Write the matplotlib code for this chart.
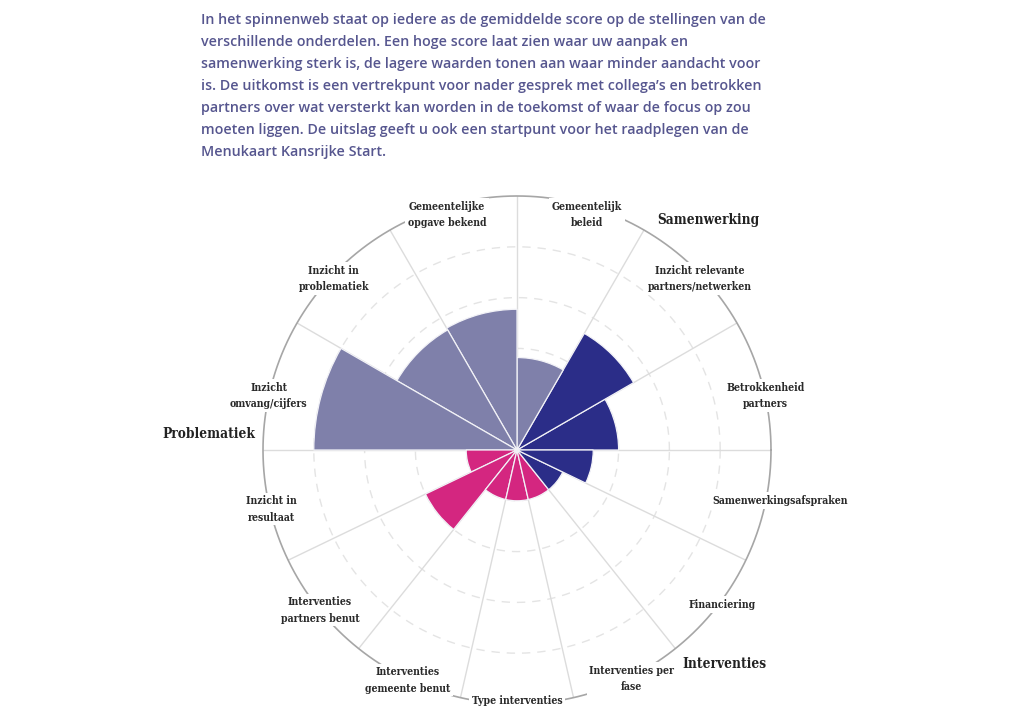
import numpy as np
import matplotlib
matplotlib.use("Agg")
import matplotlib.pyplot as plt
from matplotlib.transforms import ScaledTranslation

# ---------------- data ----------------
intro_lines = [
    "In het spinnenweb staat op iedere as de gemiddelde score op de stellingen van de",
    "verschillende onderdelen. Een hoge score laat zien waar uw aanpak en",
    "samenwerking sterk is, de lagere waarden tonen aan waar minder aandacht voor",
    "is. De uitkomst is een vertrekpunt voor nader gesprek met collega\u2019s en betrokken",
    "partners over wat versterkt kan worden in de toekomst of waar de focus op zou",
    "moeten liggen. De uitslag geeft u ook een startpunt voor het raadplegen van de",
    "Menukaart Kansrijke Start.",
]

# counter-clockwise, starting at the positive x-axis
categories = [
    "Betrokkenheid\npartners",
    "Inzicht relevante\npartners/netwerken",
    "Gemeentelijk\nbeleid",
    "Gemeentelijke\nopgave bekend",
    "Inzicht in\nproblematiek",
    "Inzicht\nomvang/cijfers",
    "Inzicht in\nresultaat",
    "Interventies\npartners benut",
    "Interventies\ngemeente benut",
    "Type interventies",
    "Interventies per\nfase",
    "Financiering",
    "Samenwerkingsafspraken",
]
values = [2.0, 2.65, 1.82, 2.77, 2.73, 4.0, 1.0, 2.0, 1.0, 1.0, 1.0, 1.0, 1.5]
bar_groups = ["S", "S", "P", "P", "P", "P", "I", "I", "I", "I", "I", "S", "S"]
group_colors = {"P": "#7f80aa", "S": "#2b2d88", "I": "#d42680"}
group_titles = ["Samenwerking", "Problematiek", "Interventies"]
scale_max = 5
scale_ticks = [1, 2, 3, 4]

# ---------------- layout ----------------
W, H = 1024, 725
cx, cy, R = 517, 450, 254

fig = plt.figure(figsize=(W / 100, H / 100), dpi=100)
fig.patch.set_facecolor("white")

ax = fig.add_axes([(cx - R) / W, 1 - (cy + R) / H, 2 * R / W, 2 * R / H],
                  projection="polar")
ax.set_ylim(0, scale_max)
ax.axis("off")

n = len(categories)
n_upper = 6
edges = list(np.linspace(0, np.pi, n_upper + 1)) + \
    list(np.linspace(np.pi, 2 * np.pi, n - n_upper + 1))[1:]
edges = np.array(edges)
lefts = edges[:-1]
widths = np.diff(edges)
mids = lefts + widths / 2

# dashed rings
th = np.linspace(0, 2 * np.pi, 720)
for t in scale_ticks:
    ax.plot(th, np.full_like(th, t), color="#e4e4e4", lw=1.0,
            ls=(0, (6, 5)), zorder=1)

# radial lines
for e in edges[:-1]:
    ax.plot([e, e], [0, scale_max], color="#dcdcdc", lw=1.0, zorder=1)

# outer ring
ax.plot(th, np.full_like(th, scale_max), color="#a6a6a6", lw=1.2, zorder=2,
        clip_on=False)

# bars
cols = [group_colors[g] for g in bar_groups]
ax.bar(lefts, values, width=widths, align="edge", color=cols,
       edgecolor="#f2f2f7", linewidth=0.9, zorder=3)

# category labels
fig.canvas.draw()
renderer = fig.canvas.get_renderer()
lab_font = dict(fontsize=7.6, family="DejaVu Serif", stretch="condensed",
                weight="bold", color="#2a2a2a", linespacing=1.6)
r_lab = 252 / R * scale_max
for m, lab in zip(mids, categories):
    c, s = np.cos(m), np.sin(m)
    tmp = ax.text(0, 0, lab, **lab_font)
    wpx = tmp.get_window_extent(renderer).width
    tmp.remove()
    if s > 0.01:
        dx = 5 * np.sign(c)
        dy = -(4 + 4 * s) if s > 0.5 else -11
    else:
        dx = 0.0
        dy = -3 + 4 * (-s) ** 30
        if c > 0.01:
            dx = 0.1 * wpx * c + 4 * c
            dy = -3 + 9 * c ** 2
    off = ScaledTranslation(dx / 100, dy / 100, fig.dpi_scale_trans)
    ax.text(m, r_lab, lab, ha="center", va="center", zorder=5,
            clip_on=False, transform=ax.transData + off,
            bbox=dict(boxstyle="square,pad=0.25", fc="white", ec="none"),
            **lab_font)

# group titles
title_pos = [(708, 220), (209, 434), (724, 664)]
for (px, py), t in zip(title_pos, group_titles):
    fig.text(px / W, 1 - py / H, t, ha="center", va="center",
             fontsize=9.8, family="DejaVu Serif", stretch="condensed",
             weight="bold", color="#222222")

# intro text
for i, line in enumerate(intro_lines):
    fig.text(201 / W, 1 - (24 + 22 * i) / H, line, ha="left",
             va="baseline", fontsize=10.25, family="Open Sans",
             weight="semibold", color="#56568f")

fig.savefig("out.png", dpi=100, facecolor="white")
